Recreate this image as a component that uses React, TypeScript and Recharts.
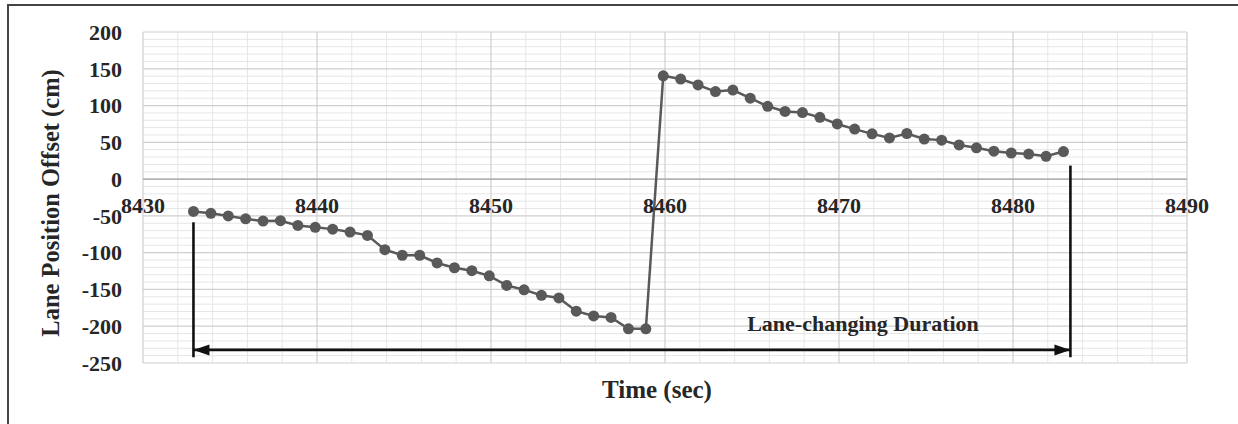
import { CartesianGrid, Line, LineChart, ReferenceLine, XAxis, YAxis } from "recharts"

// time stamps (sec) and lane position offset (cm)
const times = [
  8432.9, 8433.9, 8434.9, 8435.9, 8436.9, 8437.9, 8438.9, 8439.9, 8440.9, 8441.9,
  8442.9, 8443.9, 8444.9, 8445.9, 8446.9, 8447.9, 8448.9, 8449.9, 8450.9, 8451.9,
  8452.9, 8453.9, 8454.9, 8455.9, 8456.9, 8457.9, 8458.9, 8459.9, 8460.9, 8461.9,
  8462.9, 8463.9, 8464.9, 8465.9, 8466.9, 8467.9, 8468.9, 8469.9, 8470.9, 8471.9,
  8472.9, 8473.9, 8474.9, 8475.9, 8476.9, 8477.9, 8478.9, 8479.9, 8480.9, 8481.9,
  8482.9,
]
const offsets = [
  -44, -46.5, -50, -54, -57, -56.5, -63, -65.5, -68, -72,
  -76.5, -96, -103.5, -103.5, -114, -120.5, -124.5, -131.5, -144.5, -150.5,
  -158, -161.5, -179.5, -186, -188, -203.5, -203.5, 140.5, 136, 128,
  119, 121, 110, 99, 92, 90.5, 84, 75, 68, 61.5,
  56, 62, 54.5, 53, 46.5, 42.5, 38, 35.5, 34, 31,
  37.5,
]
const xTicks = [8430, 8440, 8450, 8460, 8470, 8480, 8490]
const yTicks = [-250, -200, -150, -100, -50, 0, 50, 100, 150, 200]

// lane-changing window marked on the chart
const laneChangeStart = 8432.9
const laneChangeEnd = 8483.3

const data = times.map((t, i) => ({ t, y: offsets[i] }))

const X_MIN = 8430
const X_MAX = 8490
const Y_MIN = -250
const Y_MAX = 200

const minorX = Array.from({ length: 31 }, (_, i) => X_MIN + i * 2).filter((v) => v % 10 !== 0)
const minorY = Array.from({ length: 46 }, (_, i) => Y_MIN + i * 10).filter((v) => v % 50 !== 0)

const W = 1238
const H = 424
const TOP = 32
const BOTTOM = 61
const LEFT = 143
const RIGHT = 51
const PLOT_H = H - TOP - BOTTOM
const ZERO_Y = TOP + (PLOT_H * (Y_MAX - 0)) / (Y_MAX - Y_MIN)

const FONT = "'Liberation Serif', 'Times New Roman', serif"
const INK = "#262626"

// x tick labels sit just under the zero line, not under the plot
function XTick({ x, payload }: any) {
  return (
    <text
      x={x}
      y={ZERO_Y + 34}
      textAnchor="middle"
      fontFamily={FONT}
      fontWeight="bold"
      fontSize={22}
      fill={INK}
    >
      {payload.value}
    </text>
  )
}

function Arrow({ x1, y1, x2, y2 }: any) {
  const head = 16
  const half = 5.5
  return (
    <g>
      <line x1={x1} y1={y1} x2={x2} y2={y2} stroke="#111" strokeWidth={2.6} />
      <polygon points={`${x1},${y1} ${x1 + head},${y1 - half} ${x1 + head},${y1 + half}`} fill="#111" />
      <polygon points={`${x2},${y2} ${x2 - head},${y2 - half} ${x2 - head},${y2 + half}`} fill="#111" />
    </g>
  )
}

export default function App() {
  return (
    <div
      style={{
        position: "fixed",
        left: 0,
        top: 0,
        width: W,
        height: H,
        overflow: "hidden",
        background: "#fff",
      }}
    >
      <div
        style={{
          position: "absolute",
          left: 7,
          top: 4,
          width: 1400,
          height: 600,
          border: "2px solid #444",
        }}
      />
      <div style={{ position: "absolute", left: 0, top: 0 }}>
        <LineChart
          width={W}
          height={H}
          data={data}
          margin={{ top: TOP, right: RIGHT, bottom: 0, left: 0 }}
        >
          <CartesianGrid
            stroke="#e6e6e6"
            strokeWidth={1}
            horizontalValues={minorY}
            verticalValues={minorX}
          />
          <CartesianGrid
            stroke="#cfcfcf"
            strokeWidth={1.2}
            horizontalValues={yTicks}
            verticalValues={xTicks}
          />
          <XAxis
            dataKey="t"
            type="number"
            domain={[X_MIN, X_MAX]}
            ticks={xTicks}
            height={BOTTOM}
            axisLine={false}
            tickLine={false}
            tick={<XTick />}
            interval={0}
          />
          <YAxis
            type="number"
            domain={[Y_MIN, Y_MAX]}
            ticks={yTicks}
            width={LEFT}
            axisLine={false}
            tickLine={false}
            tickSize={0}
            tickMargin={21}
            interval={0}
            tick={{ fontFamily: FONT, fontWeight: "bold", fontSize: 22, fill: INK }}
          />
          <ReferenceLine y={0} stroke="#a6a6a6" strokeWidth={1.3} />
          <ReferenceLine
            segment={[
              { x: laneChangeStart, y: -58.7 },
              { x: laneChangeStart, y: -242.2 },
            ]}
            stroke="#111"
            strokeWidth={2.6}
          />
          <ReferenceLine
            segment={[
              { x: laneChangeEnd, y: 18.4 },
              { x: laneChangeEnd, y: -242.2 },
            ]}
            stroke="#111"
            strokeWidth={2.6}
          />
          <ReferenceLine
            segment={[
              { x: laneChangeStart, y: -232.2 },
              { x: laneChangeEnd, y: -232.2 },
            ]}
            shape={<Arrow />}
          />
          <Line
            type="linear"
            dataKey="y"
            stroke="#595959"
            strokeWidth={2.5}
            dot={{ r: 5.5, fill: "#595959", stroke: "#595959", strokeWidth: 0 }}
            isAnimationActive={false}
          />
          <text
            x={863}
            y={331}
            textAnchor="middle"
            fontFamily={FONT}
            fontWeight="bold"
            fontSize={22}
            fill={INK}
          >
            Lane-changing Duration
          </text>
          <text
            x={657}
            y={398}
            textAnchor="middle"
            fontFamily={FONT}
            fontWeight="bold"
            fontSize={25}
            fill={INK}
          >
            Time (sec)
          </text>
          <text
            x={59}
            y={203}
            textAnchor="middle"
            fontFamily={FONT}
            fontWeight="bold"
            fontSize={24.5}
            fill={INK}
            transform="rotate(-90 59 203)"
          >
            Lane Position Offset (cm)
          </text>
        </LineChart>
      </div>
    </div>
  )
}
